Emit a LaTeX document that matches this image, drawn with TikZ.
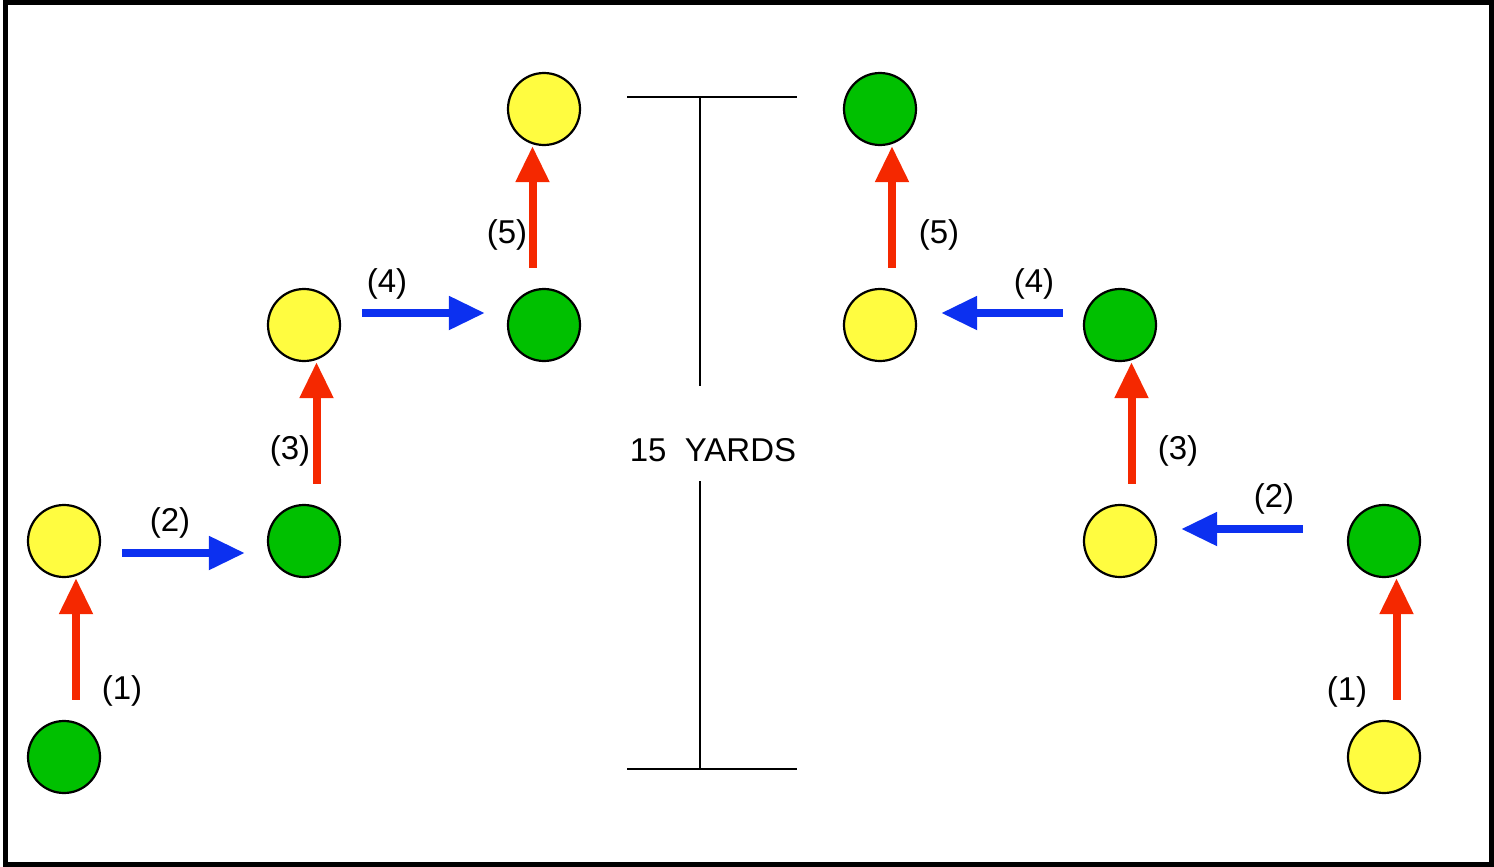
\documentclass[tikz,border=0pt]{standalone}
\usepackage{fontspec}
\setmainfont{Liberation Sans}
\usetikzlibrary{arrows.meta}
\definecolor{cyel}{RGB}{255,252,64}
\definecolor{cgrn}{RGB}{0,192,0}
\definecolor{cred}{RGB}{245,40,0}
\definecolor{cblu}{RGB}{12,48,240}
\tikzset{
  player/.style={circle,draw=black,line width=1.1pt,minimum size=36pt,inner sep=0pt},
  ypl/.style={player,fill=cyel},
  gpl/.style={player,fill=cgrn},
  redarr/.style={draw=cred,line width=4pt,-{Triangle[length=18pt,width=16pt]}},
  bluarr/.style={draw=cblu,line width=4pt,-{Triangle[length=18pt,width=16pt]}},
  lbl/.style={inner sep=0pt,font=\fontsize{16.5pt}{19pt}\selectfont},
  yardline/.style={line width=1pt,draw=black}
}
\begin{document}
\begin{tikzpicture}[x=0.5pt,y=-0.5pt]
\useasboundingbox (0,0) rectangle (1494,867);
\draw[line width=2.5pt] (5.5,2.5) rectangle (1491.5,864.5);
% left players
\node[gpl] (L1) at (64,757) {};
\node[ypl] (L2) at (64,541) {};
\node[gpl] (L3) at (304,541) {};
\node[ypl] (L4) at (304,325) {};
\node[gpl] (L5) at (544,325) {};
\node[ypl] (L6) at (544,109) {};
% right players
\node[ypl] (R1) at (1384,757) {};
\node[gpl] (R2) at (1384,541) {};
\node[ypl] (R3) at (1120,541) {};
\node[gpl] (R4) at (1120,325) {};
\node[ypl] (R5) at (880,325) {};
\node[gpl] (R6) at (880,109) {};
% left arrows
\draw[redarr,shorten <=10pt] ([xshift=6pt]L1.north) -- ([xshift=6pt]L2.south);
\draw[bluarr,shorten <=10.5pt,shorten >=11pt] ([yshift=-6pt]L2.east) -- ([yshift=-6pt]L3.west);
\draw[redarr,shorten <=10pt] ([xshift=6.25pt]L3.north) -- ([xshift=6.25pt]L4.south);
\draw[bluarr,shorten <=10.5pt,shorten >=11pt] ([yshift=6pt]L4.east) -- ([yshift=6pt]L5.west);
\draw[redarr,shorten <=10pt] ([xshift=-5.75pt]L5.north) -- ([xshift=-5.75pt]L6.south);
% right arrows
\draw[redarr,shorten <=10pt] ([xshift=6.25pt]R1.north) -- ([xshift=6.25pt]R2.south);
\draw[bluarr,shorten <=22pt,shorten >=12pt] ([yshift=6pt]R2.west) -- ([yshift=6pt]R3.east);
\draw[redarr,shorten <=10pt] ([xshift=5.75pt]R3.north) -- ([xshift=5.75pt]R4.south);
\draw[bluarr,shorten <=10pt,shorten >=12pt] ([yshift=6pt]R4.west) -- ([yshift=6pt]R5.east);
\draw[redarr,shorten <=10pt] ([xshift=6pt]R5.north) -- ([xshift=6pt]R6.south);
% labels
\node[lbl] (l1) at (122,691) {(1)};
\node[lbl] (l2) at (170,523) {(2)};
\node[lbl] (l3) at (290,451) {(3)};
\node[lbl] (l4) at (387,284) {(4)};
\node[lbl] (l5) at (507,235) {(5)};
\node[lbl] (r5) at (939,235) {(5)};
\node[lbl] (r4) at (1034,284) {(4)};
\node[lbl] (r3) at (1178,451) {(3)};
\node[lbl] (r2) at (1274,499) {(2)};
\node[lbl] (r1) at (1347,692) {(1)};
% 15 yards marker
\node[lbl] (yd) at (713,450) {15\ \ YARDS};
\coordinate (tl) at (627,97);
\coordinate (tr) at (797,97);
\coordinate (tm) at (700,97);
\coordinate (tb) at (700,386);
\coordinate (bt) at (700,481);
\coordinate (bm) at (700,769);
\coordinate (bl) at (627,769);
\coordinate (br) at (797,769);
\draw[yardline] (tl) -- (tr);
\draw[yardline] (tm) -- (tb);
\draw[yardline] (bt) -- (bm);
\draw[yardline] (bl) -- (br);
\end{tikzpicture}
\end{document}
